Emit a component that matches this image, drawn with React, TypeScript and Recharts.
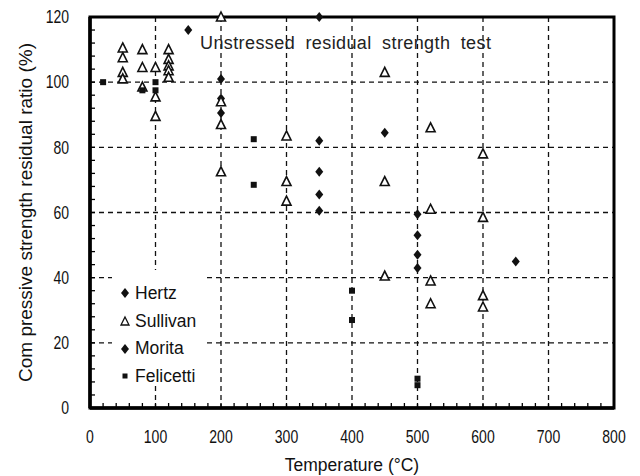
import {
  CartesianGrid,
  Legend,
  ReferenceArea,
  Scatter,
  ScatterChart,
  XAxis,
  YAxis,
} from "recharts";

// temperature (°C) / residual ratio (%)
const hertz = [
  { t: 150, r: 116 },
  { t: 350, r: 120 },
  { t: 200, r: 101 },
  { t: 200, r: 95 },
  { t: 350, r: 82 },
  { t: 450, r: 84.5 },
  { t: 350, r: 72.5 },
  { t: 650, r: 45 },
];

const sullivan = [
  { t: 50, r: 110.5 },
  { t: 50, r: 107.5 },
  { t: 50, r: 103 },
  { t: 50, r: 101 },
  { t: 80, r: 110 },
  { t: 80, r: 104.5 },
  { t: 80, r: 98.5 },
  { t: 100, r: 104.5 },
  { t: 100, r: 95.5 },
  { t: 100, r: 89.5 },
  { t: 120, r: 110 },
  { t: 120, r: 107 },
  { t: 120, r: 105 },
  { t: 120, r: 103.5 },
  { t: 120, r: 101.5 },
  { t: 200, r: 120 },
  { t: 200, r: 94 },
  { t: 200, r: 87 },
  { t: 200, r: 72.5 },
  { t: 300, r: 83.5 },
  { t: 300, r: 69.5 },
  { t: 300, r: 63.5 },
  { t: 450, r: 103 },
  { t: 450, r: 69.5 },
  { t: 450, r: 40.5 },
  { t: 520, r: 86 },
  { t: 520, r: 61 },
  { t: 520, r: 39 },
  { t: 520, r: 32 },
  { t: 600, r: 78 },
  { t: 600, r: 58.5 },
  { t: 600, r: 34.5 },
  { t: 600, r: 31 },
];

const morita = [
  { t: 200, r: 90.5 },
  { t: 350, r: 65.5 },
  { t: 350, r: 60.5 },
  { t: 500, r: 59.5 },
  { t: 500, r: 53 },
  { t: 500, r: 47 },
  { t: 500, r: 43 },
];

const felicetti = [
  { t: 20, r: 100 },
  { t: 80, r: 97.5 },
  { t: 100, r: 100 },
  { t: 100, r: 97.5 },
  { t: 250, r: 82.5 },
  { t: 250, r: 68.5 },
  { t: 400, r: 36 },
  { t: 400, r: 27 },
  { t: 500, r: 9 },
  { t: 500, r: 7 },
];

const seriesOrder = ["Hertz", "Sullivan", "Morita", "Felicetti"];
const xMajor = [0, 100, 200, 300, 400, 500, 600, 700, 800];
const yMajor = [0, 20, 40, 60, 80, 100, 120];
// minor tick marks: every 20 °C and every 4 %
const xTicks: number[] = [];
for (let v = 0; v <= 800; v += 20) xTicks.push(v);
const yTicks: number[] = [];
for (let v = 0; v <= 120; v += 4) yTicks.push(v);

const INK = "#111";
const SANS = '"Liberation Sans", Arial, sans-serif';

function Diamond({ cx, cy }: any) {
  return (
    <polygon
      points={`${cx},${cy - 5} ${cx + 4},${cy} ${cx},${cy + 5} ${cx - 4},${cy}`}
      fill={INK}
    />
  );
}

function Triangle({ cx, cy }: any) {
  return (
    <polygon
      points={`${cx},${cy - 5} ${cx + 4.5},${cy + 4} ${cx - 4.5},${cy + 4}`}
      fill="#fff"
      stroke={INK}
      strokeWidth={1.6}
    />
  );
}

function Square({ cx, cy }: any) {
  return <rect x={cx - 3} y={cy - 3} width={6} height={6} fill={INK} />;
}

// tick labels are set in a condensed face in the original; squeeze a regular one
function XTick({ x, y, payload }: any) {
  if (payload.value % 100 !== 0) return null;
  return (
    <text
      transform={`translate(${x},${y + 12}) scale(0.78,1)`}
      textAnchor="middle"
      fontFamily={SANS}
      fontSize={18}
      fill={INK}
    >
      {payload.value}
    </text>
  );
}

function YTick({ x, y, payload }: any) {
  if (payload.value % 20 !== 0) return null;
  return (
    <text
      transform={`translate(${x},${y + 6.3}) scale(0.8,1)`}
      textAnchor="end"
      fontFamily={SANS}
      fontSize={17.5}
      fill={INK}
    >
      {payload.value}
    </text>
  );
}

function LegendMark({ type }: { type: string }) {
  const c = 6;
  if (type === "triangle")
    return (
      <svg width={12} height={12}>
        <polygon
          points={`${c},${c - 4} ${c + 4},${c + 4} ${c - 4},${c + 4}`}
          fill="#fff"
          stroke={INK}
          strokeWidth={1.3}
        />
      </svg>
    );
  if (type === "square")
    return (
      <svg width={12} height={12}>
        <rect x={c - 2.5} y={c - 2.5} width={5} height={5} fill={INK} />
      </svg>
    );
  return (
    <svg width={12} height={12}>
      <polygon
        points={`${c},${c - 5} ${c + 4},${c} ${c},${c + 5} ${c - 4},${c}`}
        fill={INK}
      />
    </svg>
  );
}

function renderLegend(props: any) {
  const { payload = [] } = props;
  return (
    <div style={{ background: "#fff", paddingTop: 9.5, height: "100%", boxSizing: "border-box" }}>
      {payload.map((entry: any) => (
        <div
          key={entry.value}
          style={{ display: "flex", alignItems: "center", height: 27.7 }}
        >
          <div style={{ width: 12, marginLeft: 7, marginRight: 4, display: "flex" }}>
            <LegendMark type={entry.type} />
          </div>
          <span style={{ fontFamily: SANS, fontSize: 17.5, color: INK }}>
            {entry.value}
          </span>
        </div>
      ))}
    </div>
  );
}

function YLabel(props: any) {
  const vb = props.viewBox;
  const x = vb.x + 19;
  const y = vb.y + vb.height / 2;
  return (
    <text
      x={x}
      y={y}
      transform={`rotate(-90, ${x}, ${y})`}
      textAnchor="middle"
      dominantBaseline="middle"
      fontFamily={SANS}
      fontSize={19}
      fill={INK}
    >
      Com pressive strength residual ratio (%)
    </text>
  );
}

export default function App() {
  return (
    <div style={{ position: "relative", width: 632, height: 468 }}>
      <ScatterChart
        width={632}
        height={468}
        margin={{ top: 9, right: 26, bottom: 0, left: 0 }}
      >
        <CartesianGrid
          stroke={INK}
          strokeWidth={1.3}
          strokeDasharray="5 4"
          horizontalValues={yMajor.slice(1, -1)}
          verticalValues={xMajor.slice(1, -1)}
        />
        <XAxis
          type="number"
          dataKey="t"
          domain={[0, 800]}
          ticks={xTicks}
          interval={0}
          tickSize={-5}
          tickMargin={28}
          height={68}
          axisLine={{ stroke: "#000", strokeWidth: 3.5 }}
          tickLine={{ stroke: "#000", strokeWidth: 1.3 }}
          tick={XTick}
          label={{
            value: "Temperature (°C)",
            position: "insideBottom",
            offset: 5,
            fill: INK,
            fontSize: 17.5,
            fontFamily: SANS,
          }}
        />
        <YAxis
          type="number"
          dataKey="r"
          domain={[0, 120]}
          ticks={yTicks}
          interval={0}
          tickSize={-5}
          tickMargin={26}
          width={82}
          axisLine={{ stroke: "#000", strokeWidth: 3.5 }}
          tickLine={{ stroke: "#000", strokeWidth: 1.3 }}
          tick={YTick}
          label={{ content: YLabel }}
        />
        <ReferenceArea
          x1={0}
          x2={800}
          y1={0}
          y2={120}
          fill="none"
          stroke="#000"
          strokeWidth={3}
          ifOverflow="visible"
        />
        <Legend
          layout="vertical"
          align="center"
          verticalAlign="middle"
          content={renderLegend}
          itemSorter={(item: any) => seriesOrder.indexOf(item.value)}
          wrapperStyle={{ left: 104, top: 262, width: 94, height: 116 }}
        />
        <Scatter name="Hertz" data={hertz} legendType="diamond" shape={Diamond} isAnimationActive={false} />
        <Scatter name="Sullivan" data={sullivan} legendType="triangle" shape={Triangle} isAnimationActive={false} />
        <Scatter name="Morita" data={morita} legendType="diamond" shape={Diamond} isAnimationActive={false} />
        <Scatter name="Felicetti" data={felicetti} legendType="square" shape={Square} isAnimationActive={false} />
      </ScatterChart>
      <div
        style={{
          position: "absolute",
          left: 192,
          top: 26,
          fontFamily: SANS,
          fontSize: 18,
          lineHeight: "18px",
          letterSpacing: 0.4,
          wordSpacing: 5,
          color: "#222",
          whiteSpace: "nowrap",
        }}
      >
        Unstressed residual strength test
      </div>
    </div>
  );
}
